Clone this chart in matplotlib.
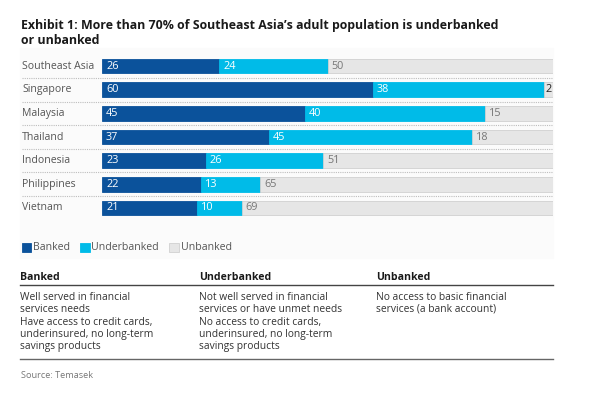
import matplotlib
matplotlib.use("Agg")
import matplotlib.pyplot as plt
import matplotlib.transforms as mtransforms
from matplotlib.patches import Rectangle
from matplotlib.lines import Line2D

plt.rcParams['font.family'] = ['Open Sans', 'DejaVu Sans']

countries = ['Southeast Asia', 'Singapore', 'Malaysia', 'Thailand',
             'Indonesia', 'Philippines', 'Vietnam']
banked = [26, 60, 45, 37, 23, 22, 21]
underbanked = [24, 38, 40, 45, 26, 13, 10]
unbanked = [50, 2, 15, 18, 51, 65, 69]

series_names = ['Banked', 'Underbanked', 'Unbanked']
colors = ['#0b529b', '#00bbe8', '#e6e6e6']
label_colors = ['white', 'white', '#777777']

col_heads = ['Banked', 'Underbanked', 'Unbanked']
col_text = [
    ['Well served in financial\nservices needs',
     'Have access to credit cards,\nunderinsured, no long-term\nsavings products'],
    ['Not well served in financial\nservices or have unmet needs',
     'No access to credit cards,\nunderinsured, no long-term\nsavings products'],
    ['No access to basic financial\nservices (a bank account)'],
]

W, H = 604, 393
fig = plt.figure(figsize=(W / 100, H / 100), dpi=100)


def fx(px):
    return px / W


def fy(py):
    return 1 - py / H


# faint panel behind chart and legend
fig.patches.append(Rectangle((fx(20), fy(258)), fx(553) - fx(20), fy(48) - fy(258),
                             transform=fig.transFigure, color='#fbfbfb', zorder=-5))

fig.text(fx(21), fy(33), "Exhibit 1: More than 70% of Southeast Asia\u2019s adult population is underbanked\nor unbanked",
         fontsize=8.9, fontweight='bold', color='#1a1a1a', va='center', ha='left', linespacing=1.3)

ax = fig.add_axes([fx(102), fy(219.8), fx(553) - fx(102), fy(54.2) - fy(219.8)])
ax.patch.set_alpha(0)
ypos = list(range(len(countries)))
left = [0] * len(countries)
for vals, c, lc in zip([banked, underbanked, unbanked], colors, label_colors):
    ec = '#d0d0d0' if c == '#e6e6e6' else c
    ax.barh(ypos, vals, left=left, height=0.63, color=c, edgecolor=ec, linewidth=0.6)
    for y, l, v in zip(ypos, left, vals):
        tc = lc
        pad = 0.9
        if v < 5:
            tc = '#222222'
            pad = 0.3
        ax.text(l + pad, y, str(v), color=tc, fontsize=7.8, va='center', ha='left')
    left = [a + b for a, b in zip(left, vals)]

ax.set_xlim(0, 100)
ax.set_ylim(6.5, -0.5)
ax.axis('off')

tr = mtransforms.blended_transform_factory(fig.transFigure, ax.transData)
for y, name in zip(ypos, countries):
    ax.text(fx(22), y, name, transform=tr, fontsize=7.6, color='#555555', va='center', ha='left')
for y in ypos[:-1]:
    ax.add_line(Line2D([fx(22), fx(553)], [y + 0.5, y + 0.5], transform=tr, color='#bdbdbd',
                       linewidth=0.8, linestyle=(0, (1, 1)), clip_on=False))

# legend
lx = [21.5, 80, 169]
for x, name, c in zip(lx, series_names, colors):
    ec = '#d0d0d0' if c == '#e6e6e6' else c
    fig.patches.append(Rectangle((fx(x), fy(252)), fx(9.5), fy(242.5) - fy(252),
                                 transform=fig.transFigure, facecolor=c, edgecolor=ec, linewidth=0.6))
    fig.text(fx(x + 11.5), fy(247), name, fontsize=7.6, color='#555555', va='center', ha='left')

# definitions table
cx = [20, 199, 376]
for x, head, paras in zip(cx, col_heads, col_text):
    fig.text(fx(x), fy(278), head, fontsize=7.6, fontweight='bold', color='#1a1a1a', va='center')
    y = 292
    for p in paras:
        fig.text(fx(x), fy(y), p, fontsize=7.4, color='#333333', va='top', linespacing=1.1)
        y += 25
fig.add_artist(Line2D([fx(20), fx(553)], [fy(284.5), fy(284.5)], transform=fig.transFigure,
                      color='#444444', linewidth=1.0))
fig.add_artist(Line2D([fx(20), fx(553)], [fy(359), fy(359)], transform=fig.transFigure,
                      color='#666666', linewidth=1.0))

fig.text(fx(21), fy(375), 'Source: Temasek', fontsize=6.6, color='#777777', va='center')

fig.savefig('out.png', dpi=100, facecolor='white')
